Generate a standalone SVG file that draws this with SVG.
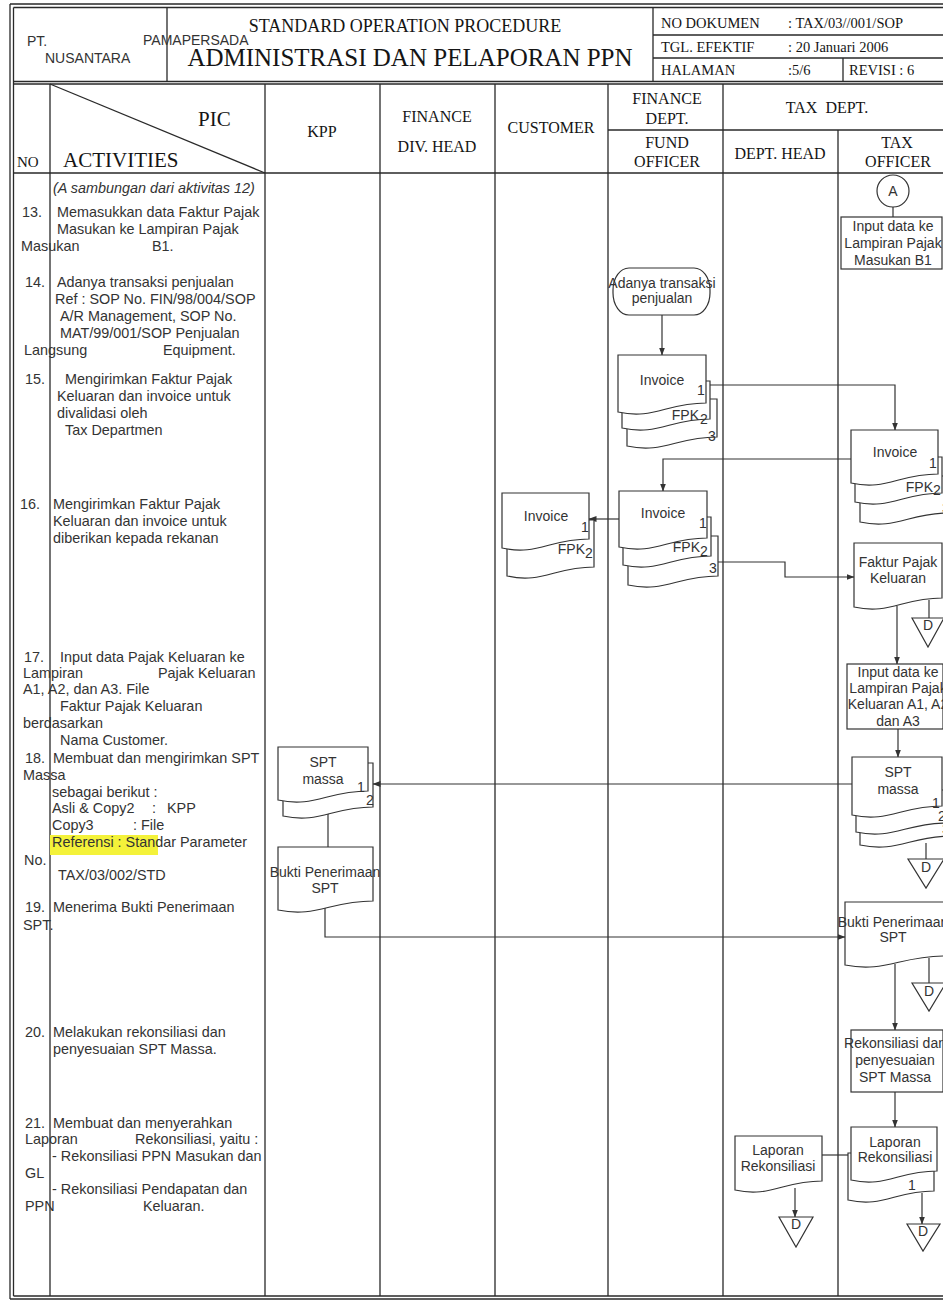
<svg xmlns="http://www.w3.org/2000/svg" width="943" height="1300" viewBox="0 0 943 1300">
<defs>
<marker id="ah" markerWidth="8" markerHeight="6" refX="7.5" refY="3" orient="auto" markerUnits="userSpaceOnUse"><path d="M0,0 L8,3 L0,6 z" fill="#333"/></marker>
<style>
.fr{stroke:#2a2a2a;stroke-width:1.3;fill:none}
.ln{stroke:#333;stroke-width:1.2;fill:none}
.ar{stroke:#333;stroke-width:1.2;fill:none;marker-end:url(#ah)}
.sh{fill:#fff;stroke:#333;stroke-width:1.2}
.t{font-family:"Liberation Sans",Arial,sans-serif;font-size:14.4px;fill:#333}
.f{font-family:"Liberation Sans",Arial,sans-serif;font-size:14px;fill:#333}
.sf{font-family:"Liberation Serif","Times New Roman",serif;fill:#151515}
.m{text-anchor:middle}
.e{text-anchor:end}
</style>
</defs>
<rect width="943" height="1300" fill="#fff"/>

<g id="frame">
<path class="fr" d="M10,4 H943 M13.5,7.5 H943 M10,4 V1299 M13.5,7.5 V1296 M10,1299 H943 M13.5,1296 H943"/>
<path class="fr" d="M13.5,81.5 H943 M13.5,84 H943"/>
<path class="fr" d="M167,7.5 V81.5 M653,7.5 V81.5 M653,35 H943 M653,58 H943 M843,58 V81.5"/>
<path class="fr" d="M50,84 V1296 M265,84 V1296 M380,84 V1296 M495,84 V1296 M608,84 V1296 M723,84 V1296 M838,130 V1296"/>
<path class="fr" d="M608,130 H943 M13.5,173 H943"/>
<path class="fr" d="M50,84 L265,173"/>
</g>

<g id="header">
<text class="f" x="27" y="46" font-size="13">PT.</text>
<text class="f" x="143" y="45">PAMAPERSADA</text>
<text class="f" x="45" y="63">NUSANTARA</text>
<text class="sf m" x="405" y="32" font-size="18">STANDARD OPERATION PROCEDURE</text>
<text class="sf m" x="410" y="66" font-size="25">ADMINISTRASI DAN PELAPORAN PPN</text>
<text class="sf" x="661" y="28" font-size="14.5">NO DOKUMEN</text>
<text class="sf" x="788" y="28" font-size="14.5">: TAX/03//001/SOP</text>
<text class="sf" x="661" y="52" font-size="14.5">TGL. EFEKTIF</text>
<text class="sf" x="788" y="52" font-size="14.5">: 20 Januari 2006</text>
<text class="sf" x="661" y="75" font-size="14.5">HALAMAN</text>
<text class="sf" x="788" y="75" font-size="14.5">:5/6</text>
<text class="sf" x="849" y="75" font-size="14.5">REVISI : 6</text>
</g>

<g id="columns">
<text class="sf" x="17" y="167" font-size="15">NO</text>
<text class="sf" x="198" y="126" font-size="21">PIC</text>
<text class="sf" x="63" y="167" font-size="21">ACTIVITIES</text>
<text class="sf m" x="322" y="137" font-size="16">KPP</text>
<text class="sf m" x="437" y="122" font-size="16">FINANCE</text>
<text class="sf m" x="437" y="152" font-size="16">DIV. HEAD</text>
<text class="sf m" x="551" y="133" font-size="16">CUSTOMER</text>
<text class="sf m" x="667" y="104" font-size="16">FINANCE</text>
<text class="sf m" x="667" y="124" font-size="16">DEPT.</text>
<text class="sf m" x="667" y="148" font-size="16">FUND</text>
<text class="sf m" x="667" y="167" font-size="16">OFFICER</text>
<text class="sf m" x="827" y="113" font-size="16" style="white-space:pre">TAX  DEPT.</text>
<text class="sf m" x="780" y="159" font-size="16">DEPT. HEAD</text>
<text class="sf m" x="897" y="148" font-size="16">TAX</text>
<text class="sf m" x="898" y="167" font-size="16">OFFICER</text>
</g>

<g id="activities">
<rect x="50" y="835" width="108" height="20" fill="#f4f23a"/>
<text class="t" x="53" y="193" font-style="italic">(A sambungan dari aktivitas 12)</text>
<text class="t" x="22" y="217">13.</text>
<text class="t" x="57" y="217">Memasukkan data Faktur Pajak</text>
<text class="t" x="57" y="234">Masukan ke Lampiran Pajak</text>
<text class="t" x="21" y="251">Masukan</text>
<text class="t" x="152" y="251">B1.</text>
<text class="t" x="25" y="287">14.</text>
<text class="t" x="57" y="287">Adanya transaksi penjualan</text>
<text class="t" x="55" y="304">Ref : SOP No. FIN/98/004/SOP</text>
<text class="t" x="60" y="321">A/R Management, SOP No.</text>
<text class="t" x="60" y="338">MAT/99/001/SOP Penjualan</text>
<text class="t" x="24" y="355">Langsung</text>
<text class="t" x="163" y="355">Equipment.</text>
<text class="t" x="25" y="384">15.</text>
<text class="t" x="65" y="384">Mengirimkan Faktur Pajak</text>
<text class="t" x="57" y="401">Keluaran dan invoice untuk</text>
<text class="t" x="57" y="418">divalidasi oleh</text>
<text class="t" x="65" y="435">Tax Departmen</text>
<text class="t" x="20" y="509">16.</text>
<text class="t" x="53" y="509">Mengirimkan Faktur Pajak</text>
<text class="t" x="53" y="526">Keluaran dan invoice untuk</text>
<text class="t" x="53" y="543">diberikan kepada rekanan</text>
<text class="t" x="24" y="662">17.</text>
<text class="t" x="60" y="662">Input data Pajak Keluaran ke</text>
<text class="t" x="23" y="678">Lampiran</text>
<text class="t" x="158" y="678">Pajak Keluaran</text>
<text class="t" x="23" y="694">A1, A2, dan A3. File</text>
<text class="t" x="60" y="711">Faktur Pajak Keluaran</text>
<text class="t" x="23" y="728">berdasarkan</text>
<text class="t" x="60" y="745">Nama Customer.</text>
<text class="t" x="25" y="763">18.</text>
<text class="t" x="53" y="763">Membuat dan mengirimkan SPT</text>
<text class="t" x="23" y="780">Massa</text>
<text class="t" x="52" y="797">sebagai berikut :</text>
<text class="t" x="52" y="813">Asli &amp; Copy2</text>
<text class="t" x="152" y="813">:</text>
<text class="t" x="167" y="813">KPP</text>
<text class="t" x="52" y="830">Copy3</text>
<text class="t" x="133" y="830">: File</text>
<text class="t" x="52" y="847">Referensi : Standar Parameter</text>
<text class="t" x="24" y="865">No.</text>
<text class="t" x="58" y="880">TAX/03/002/STD</text>
<text class="t" x="25" y="912">19.</text>
<text class="t" x="53" y="912">Menerima Bukti Penerimaan</text>
<text class="t" x="23" y="930">SPT.</text>
<text class="t" x="25" y="1037">20.</text>
<text class="t" x="53" y="1037">Melakukan rekonsiliasi dan</text>
<text class="t" x="53" y="1054">penyesuaian SPT Massa.</text>
<text class="t" x="25" y="1128">21.</text>
<text class="t" x="53" y="1128">Membuat dan menyerahkan</text>
<text class="t" x="25" y="1144">Laporan</text>
<text class="t" x="135" y="1144">Rekonsiliasi, yaitu :</text>
<text class="t" x="52" y="1161">- Rekonsiliasi PPN Masukan dan</text>
<text class="t" x="25" y="1178">GL</text>
<text class="t" x="52" y="1194">- Rekonsiliasi Pendapatan dan</text>
<text class="t" x="25" y="1211">PPN</text>
<text class="t" x="143" y="1211">Keluaran.</text>
</g>

<g id="connectors">
<path class="ln" d="M893,207 V217"/>
<path class="ar" d="M662,315 V355"/>
<path class="ar" d="M706,385 H895 V430"/>
<path class="ar" d="M851,459 H663 V491"/>
<path class="ar" d="M619,519 H589"/>
<path class="ar" d="M718,562 H785 V577 H854"/>
<path class="ln" d="M929,600 V618"/>
<path class="ar" d="M897,606 V664"/>
<path class="ar" d="M898,729 V757"/>
<path class="ar" d="M852,784 H373"/>
<path class="ln" d="M926,843 V859"/>
<path class="ln" d="M328,812 V847"/>
<path class="ar" d="M325,908 V937 H845"/>
<path class="ln" d="M929,958 V983"/>
<path class="ar" d="M895,964 V1030"/>
<path class="ar" d="M895,1092 V1127"/>
<path class="ln" d="M822,1155 H848"/>
<path class="ar" d="M795,1188 V1217"/>
<path class="ar" d="M922,1193 V1224"/>
</g>

<g id="node-A">
<circle class="sh" cx="893" cy="191" r="16"/>
<text class="f m" x="893" y="196">A</text>
</g>

<g id="node-input-b1">
<rect class="sh" x="841" y="217" width="101" height="52"/>
<text class="f m" x="893" y="231">Input data ke</text>
<text class="f m" x="893" y="248">Lampiran Pajak</text>
<text class="f m" x="893" y="265">Masukan B1</text>
</g>

<g id="node-start">
<rect class="sh" x="613" y="268" width="97" height="47" rx="16" ry="22"/>
<text class="f m" x="662" y="288">Adanya transaksi</text>
<text class="f m" x="662" y="303">penjualan</text>
</g>

<g id="node-invoice-fund-15">
<path class="sh" d="M627,399 H717 V437 C676.5,437 663,454 627,446 Z"/>
<path class="sh" d="M622,381 H710 V419 C670.4,419 657.2,436 622,428 Z"/>
<path class="sh" d="M618,355 H706 V403 C666.4,403 653.2,420 618,412 Z"/>
<text class="f m" x="662" y="385">Invoice</text>
<text class="f" x="697" y="395">1</text>
<text class="f e" x="699" y="420">FPK</text>
<text class="f" x="700" y="424">2</text>
<text class="f" x="708" y="441">3</text>
</g>

<g id="node-invoice-tax">
<path class="sh" d="M860,476 H949 V513 C909,513 895.6,530 860,522 Z"/>
<path class="sh" d="M855,457 H942 V493 C902.9,493 889.8,510 855,502 Z"/>
<path class="sh" d="M851,430 H938 V474 C898.9,474 885.8,491 851,483 Z"/>
<text class="f m" x="895" y="457">Invoice</text>
<text class="f" x="929" y="468">1</text>
<text class="f e" x="933" y="492">FPK</text>
<text class="f" x="933" y="495">2</text>
<text class="f" x="942" y="513">3</text>
</g>

<g id="node-invoice-fund-16">
<path class="sh" d="M628,536 H718 V576 C677.5,576 664,593 628,585 Z"/>
<path class="sh" d="M623,517 H711 V556 C671.4,556 658.2,573 623,565 Z"/>
<path class="sh" d="M619,491 H707 V538 C667.4,538 654.2,555 619,547 Z"/>
<text class="f m" x="663" y="518">Invoice</text>
<text class="f" x="699" y="528">1</text>
<text class="f e" x="700" y="552">FPK</text>
<text class="f" x="700" y="556">2</text>
<text class="f" x="709" y="573">3</text>
</g>

<g id="node-invoice-customer">
<path class="sh" d="M507,520 H594 V567 C554.9,567 541.8,584 507,576 Z"/>
<path class="sh" d="M502,493 H589 V539 C549.9,539 536.8,556 502,548 Z"/>
<text class="f m" x="546" y="521">Invoice</text>
<text class="f" x="581" y="532">1</text>
<text class="f e" x="585" y="554">FPK</text>
<text class="f" x="585" y="558">2</text>
</g>

<g id="node-faktur">
<path class="sh" d="M854,543 H942 V598 C902.4,598 889.2,615 854,607 Z"/>
<text class="f m" x="898" y="567">Faktur Pajak</text>
<text class="f m" x="898" y="583">Keluaran</text>
</g>

<g id="node-d1">
<path class="sh" d="M912,618 H944 L928,647 Z"/>
<text class="f m" x="928" y="630">D</text>
</g>

<g id="node-input-a">
<rect class="sh" x="847" y="664" width="96" height="65"/>
<text class="f m" x="898" y="677">Input data ke</text>
<text class="f m" x="898" y="693">Lampiran Pajak</text>
<text class="f m" x="898" y="709">Keluaran A1, A2</text>
<text class="f m" x="898" y="726">dan A3</text>
</g>

<g id="node-spt-tax">
<path class="sh" d="M860,805 H952 V836 C910.6,836 896.8,853 860,845 Z"/>
<path class="sh" d="M856,790 H947 V823 C906,823 892.4,840 856,832 Z"/>
<path class="sh" d="M852,757 H942 V806 C901.5,806 888,823 852,815 Z"/>
<text class="f m" x="898" y="777">SPT</text>
<text class="f m" x="898" y="794">massa</text>
<text class="f" x="932" y="808">1</text>
<text class="f" x="938" y="821">2</text>
<text class="f" x="942" y="834">3</text>
</g>

<g id="node-d2">
<path class="sh" d="M908,859 H944 L926,888 Z"/>
<text class="f m" x="926" y="872">D</text>
</g>

<g id="node-spt-kpp">
<path class="sh" d="M283,763 H373 V807 C332.5,807 319,824 283,816 Z"/>
<path class="sh" d="M278,747 H368 V791 C327.5,791 314,808 278,800 Z"/>
<text class="f m" x="323" y="767">SPT</text>
<text class="f m" x="323" y="784">massa</text>
<text class="f" x="357" y="792">1</text>
<text class="f" x="366" y="805">2</text>
</g>

<g id="node-bukti-kpp">
<path class="sh" d="M278,847 H373 V901 C330.3,901 316,918 278,910 Z"/>
<text class="f m" x="325" y="877">Bukti Penerimaan</text>
<text class="f m" x="325" y="893">SPT</text>
</g>

<g id="node-bukti-tax">
<path class="sh" d="M845,902 H945 V956 C900,956 885,973 845,965 Z"/>
<text class="f m" x="893" y="927">Bukti Penerimaan</text>
<text class="f m" x="893" y="942">SPT</text>
</g>

<g id="node-d3">
<path class="sh" d="M912,983 H946 L929,1011 Z"/>
<text class="f m" x="929" y="996">D</text>
</g>

<g id="node-rekon">
<rect class="sh" x="851" y="1030" width="92" height="62"/>
<text class="f m" x="895" y="1048">Rekonsiliasi dan</text>
<text class="f m" x="895" y="1065">penyesuaian</text>
<text class="f m" x="895" y="1082">SPT Massa</text>
</g>

<g id="node-laporan-tax">
<path class="sh" d="M848,1153 H934 V1191 C895.3,1191 882.4,1208 848,1200 Z"/>
<path class="sh" d="M851,1127 H937 V1171 C898.3,1171 885.4,1188 851,1180 Z"/>
<text class="f m" x="895" y="1147">Laporan</text>
<text class="f m" x="895" y="1162">Rekonsiliasi</text>
<text class="f" x="908" y="1190">1</text>
</g>

<g id="node-laporan-head">
<path class="sh" d="M735,1136 H822 V1181 C782.9,1181 769.8,1198 735,1190 Z"/>
<text class="f m" x="778" y="1155">Laporan</text>
<text class="f m" x="778" y="1171">Rekonsiliasi</text>
</g>

<g id="node-d4">
<path class="sh" d="M779,1217 H813 L796,1247 Z"/>
<text class="f m" x="796" y="1229">D</text>
</g>

<g id="node-d5">
<path class="sh" d="M907,1224 H940 L923,1251 Z"/>
<text class="f m" x="923" y="1236">D</text>
</g>
</svg>
